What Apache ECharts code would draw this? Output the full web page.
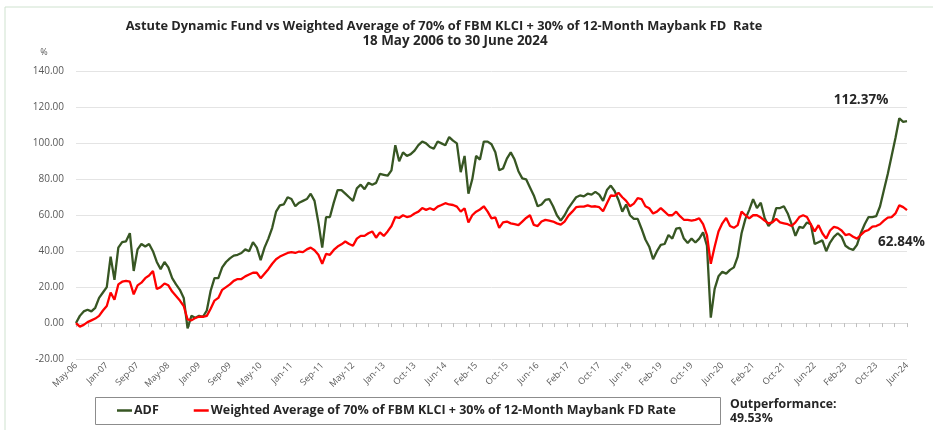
<!DOCTYPE html>
<html><head><meta charset="utf-8">
<script src="https://cdn.jsdelivr.net/npm/echarts@6/dist/echarts.min.js"></script>
<style>html,body{margin:0;padding:0;background:#fff}#c{width:933px;height:430px}</style>
</head><body><div id="c"></div>
<script>
const tickLabels = ['May-06','Jan-07','Sep-07','May-08','Jan-09','Sep-09','May-10','Jan-11','Sep-11','May-12','Jan-13','Oct-13','Jun-14','Feb-15','Oct-15','Jun-16','Feb-17','Oct-17','Jun-18','Feb-19','Oct-19','Jun-20','Feb-21','Oct-21','Jun-22','Feb-23','Oct-23','Jun-24'];
const pointsPerLabel = 8;
const minorTickCount = 66;

const adf = [
 0, 4, 6.5, 7.4, 6.5, 8.5, 14, 17, 20, 37,
 24, 42, 45, 45.5, 50, 29, 41, 44, 42.6, 44,
 40, 34, 30, 34, 31, 25, 21.5, 18.5, 14, -3,
 4, 3, 4, 3.5, 7, 18, 25, 25, 31, 34,
 36, 37.5, 38, 39, 41, 40, 45, 42, 35, 42,
 47, 53, 62, 65.5, 66, 70, 69, 65, 67, 68,
 69, 72, 68, 56, 42, 59, 59, 67, 74, 74,
 72, 70, 68, 75, 77, 74.5, 78, 77, 78, 83,
 82.5, 82, 85, 99, 90, 95, 93, 94, 96, 99,
 101, 100, 98, 97, 101, 100, 99, 103.5, 101.5, 100,
 84, 93, 72, 80, 93, 91, 101, 101, 99.5, 95,
 85, 86, 91.5, 95, 91, 84.5, 80.5, 80, 75.5, 71,
 65, 66, 68.5, 69, 65, 60, 57, 60, 64, 67,
 70, 71, 70.5, 72, 71.5, 73, 71.5, 68, 74, 76.5,
 73.5, 68.5, 62, 66, 60, 58, 58, 52.5, 46.5, 42.5,
 35.5, 40, 43.5, 44, 49, 47, 52.5, 53, 47, 44.5,
 47, 44.8, 47, 50.5, 43, 3, 19, 26, 28.5, 27.5,
 29.6, 31, 37, 50, 58, 63, 69, 64, 67, 58.5,
 54, 56.5, 64, 64, 65, 61, 55, 48.5, 53.5, 53,
 56, 55, 44, 45, 46, 40, 44.8, 48, 50, 48,
 43, 41.5, 40.7, 43.5, 50, 55, 59, 59, 59.5, 65,
 74, 83, 93, 103, 114, 112, 112.37
];
const benchmark = [
 0, -2, -1, 0.5, 1.5, 2.5, 4, 7, 9.5, 17,
 13, 21.5, 23, 23.5, 23, 16, 21, 22.5, 25, 26.5,
 29, 19, 20, 22, 21, 17.5, 15, 12.5, 9.5, 2,
 1.5, 2.8, 3.5, 3.5, 4, 8, 12.5, 14, 18.5, 20,
 21.5, 23.5, 24.5, 24.5, 26, 27, 28, 28, 25, 27.5,
 30, 33, 35.5, 37, 38, 39, 39.5, 39, 39.8, 39.5,
 41, 42, 40.5, 38, 33, 38.5, 38, 40.7, 42.6, 43.8,
 45.4, 44, 43, 47, 48.5, 48.5, 50, 51, 47.5, 50.5,
 48.5, 51, 54, 59, 58.5, 60, 59, 59.5, 61, 62,
 64, 63, 63.9, 63, 64.8, 65.7, 66.7, 66, 65.7, 64.8,
 62, 63.9, 56, 60, 62, 63.2, 65, 62, 58.3, 58.8,
 53, 56, 56.5, 55.5, 55, 54.5, 56.5, 58.5, 60, 54.6,
 54, 56.5, 57.4, 57, 56.5, 55.5, 54.8, 56.5, 59.8, 62,
 64.5, 64.8, 64.8, 65.5, 64.8, 65, 64.5, 62.2, 66.7, 71,
 70.8, 72.5, 70, 68, 65, 66.5, 69.5, 69, 65, 63.9,
 61, 62, 64, 62, 60, 60, 62, 59.5, 57.5, 57.4,
 57, 57.4, 58.3, 55, 49, 33, 42.5, 51, 55.5, 58.5,
 54, 53, 54.5, 62, 60, 58.3, 60, 60, 58.7, 57,
 55.5, 56, 58, 56, 55.5, 55, 54, 56, 59, 60,
 59, 55, 51, 54.5, 50, 47, 51.5, 53.5, 53, 51.5,
 49, 49.5, 48, 47, 49, 51, 51.8, 53.7, 54, 55,
 57, 58.7, 59, 61, 65.5, 64.5, 62.84
];
const seriesNames = ['ADF', 'Weighted Average of 70% of FBM KLCI + 30% of 12-Month Maybank FD Rate'];
const seriesColors = ['#375623', '#ff0000'];
const titleLines = ['Astute Dynamic Fund vs Weighted Average of 70% of FBM KLCI + 30% of 12-Month Maybank FD  Rate', '18 May 2006 to 30 June 2024'];
const adfEndLabel = '112.37%';
const benchEndLabel = '62.84%';
const outperfLines = ['Outperformance:', '49.53%'];
const yUnit = '%';

const FONT = 'Open Sans';
const chart = echarts.init(document.getElementById('c'), null, {renderer: 'canvas'});
const maxX = (tickLabels.length - 1) * pointsPerLabel;
const toPairs = arr => arr.map((v, i) => [i, v]);

const option = {
  animation: false,
  textStyle: {fontFamily: FONT},
  grid: {left: 76, right: 26, top: 71.5, bottom: 71, containLabel: false},
  xAxis: [
    {type: 'value', min: 0, max: maxX, interval: pointsPerLabel,
     axisLine: {show: false, onZero: false}, axisTick: {show: false}, splitLine: {show: false},
     axisLabel: {rotate: 45, fontSize: 9, color: '#595959', margin: 5, fontFamily: FONT,
       formatter: v => tickLabels[Math.round(v / pointsPerLabel)] || ''}},
    {type: 'value', min: 0, max: maxX, interval: maxX / minorTickCount, position: 'bottom',
     axisLine: {show: true, onZero: true, lineStyle: {color: '#d9d9d9', width: 1}},
     axisTick: {show: true, length: 4, lineStyle: {color: '#bfbfbf'}},
     axisLabel: {show: false}, splitLine: {show: false}}
  ],
  yAxis: {type: 'value', min: -20, max: 140, interval: 20,
    axisLine: {show: false}, axisTick: {show: false},
    axisLabel: {formatter: v => v.toFixed(2), fontSize: 10, color: '#595959', margin: 12, fontFamily: FONT},
    splitLine: {lineStyle: {color: '#e4e4e4', width: 1}}},
  legend: {
    left: 95, top: 397, orient: 'horizontal',
    padding: [7, 10, 6, 22], itemGap: 35, itemWidth: 15, itemHeight: 2.5,
    textStyle: {fontSize: 12.5, fontWeight: 'bold', color: '#262626', fontFamily: FONT, padding: [0, 0, 0, -3]},
    data: seriesNames.map(n => ({name: n, icon: 'rect'}))
  },
  series: [
    {name: seriesNames[0], type: 'line', xAxisIndex: 0, data: toPairs(adf), showSymbol: false, symbol: 'none',
     lineStyle: {color: seriesColors[0], width: 2.3}, itemStyle: {color: seriesColors[0]}},
    {name: seriesNames[1], type: 'line', xAxisIndex: 0, data: toPairs(benchmark), showSymbol: false, symbol: 'none',
     lineStyle: {color: seriesColors[1], width: 2.3}, itemStyle: {color: seriesColors[1]}}
  ],
  graphic: [
    {type: 'line', shape: {x1: 5, y1: 7, x2: 933, y2: 7}, style: {stroke: '#cfe2cf', lineWidth: 1}, silent: true},
    {type: 'line', shape: {x1: 5, y1: 7, x2: 5, y2: 430}, style: {stroke: '#cfe2cf', lineWidth: 1}, silent: true},
    {type: 'rect', shape: {x: 95.5, y: 397.5, width: 625, height: 27}, style: {fill: 'none', stroke: '#8c8c8c', lineWidth: 1}, silent: true},
    {type: 'text', x: 444, y: 26, style: {text: titleLines[0], font: 'bold 12.8px "Open Sans"', fill: '#262626', textAlign: 'center', textVerticalAlign: 'middle'}},
    {type: 'text', x: 455, y: 41, style: {text: titleLines[1], font: 'bold 13.4px "Open Sans"', fill: '#262626', textAlign: 'center', textVerticalAlign: 'middle'}},
    {type: 'text', x: 44, y: 52, style: {text: yUnit, font: '9px "Open Sans"', fill: '#595959', textAlign: 'center', textVerticalAlign: 'middle'}},
    {type: 'text', x: 861, y: 100, style: {text: adfEndLabel, font: 'bold 13.5px "Open Sans"', fill: '#262626', textAlign: 'center', textVerticalAlign: 'middle'}},
    {type: 'text', x: 878, y: 242, style: {text: benchEndLabel, font: 'bold 13.5px "Open Sans"', fill: '#262626', textAlign: 'left', textVerticalAlign: 'middle'}},
    {type: 'text', x: 730, y: 404, style: {text: outperfLines[0], font: 'bold 12.3px "Open Sans"', fill: '#262626', textAlign: 'left', textVerticalAlign: 'middle'}},
    {type: 'text', x: 730, y: 418, style: {text: outperfLines[1], font: 'bold 12.3px "Open Sans"', fill: '#262626', textAlign: 'left', textVerticalAlign: 'middle'}}
  ]
};
chart.setOption(option);
</script></body></html>
